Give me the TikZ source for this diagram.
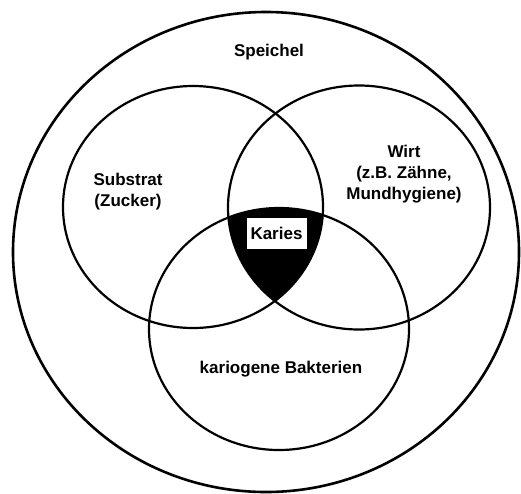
\documentclass[tikz,border=0pt]{standalone}
\usepackage{fontspec}
\setmainfont{Liberation Sans}
\begin{document}
\begin{tikzpicture}[x=1pt,y=-1pt,
  ring/.style={draw=black,line width=2.2pt},
  lbl/.style={font=\bfseries\fontsize{17}{21}\selectfont,align=center,inner sep=0pt}]
\useasboundingbox (0,0) rectangle (521,493);
\coordinate (O) at (266,252);
\coordinate (L) at (193,207);
\coordinate (R) at (359,207.5);
\coordinate (B) at (279,329);
\begin{scope}
  \clip (L) ellipse [x radius=130, y radius=121];
  \clip (R) ellipse [x radius=131, y radius=122];
  \fill[black] (B) ellipse [x radius=130, y radius=121];
\end{scope}
\draw[ring,line width=2.6pt] (O) ellipse [x radius=253, y radius=240];
\draw[ring] (L) ellipse [x radius=130, y radius=121];
\draw[ring] (R) ellipse [x radius=131, y radius=122];
\draw[ring] (B) ellipse [x radius=130, y radius=121];
\node[lbl] (speichel) at (269,52) {Speichel};
\node[lbl] (substrat) at (128,192) {Substrat\\(Zucker)};
\node[lbl] (wirt) at (404,174) {Wirt\\(z.B. Zähne,\\Mundhygiene)};
\node[lbl] (bakt) at (281,369) {kariogene Bakterien};
\node[lbl,fill=white,draw=black,line width=1pt,minimum width=61pt,minimum height=32pt] (karies) at (276.5,233) {Karies};
\end{tikzpicture}
\end{document}
